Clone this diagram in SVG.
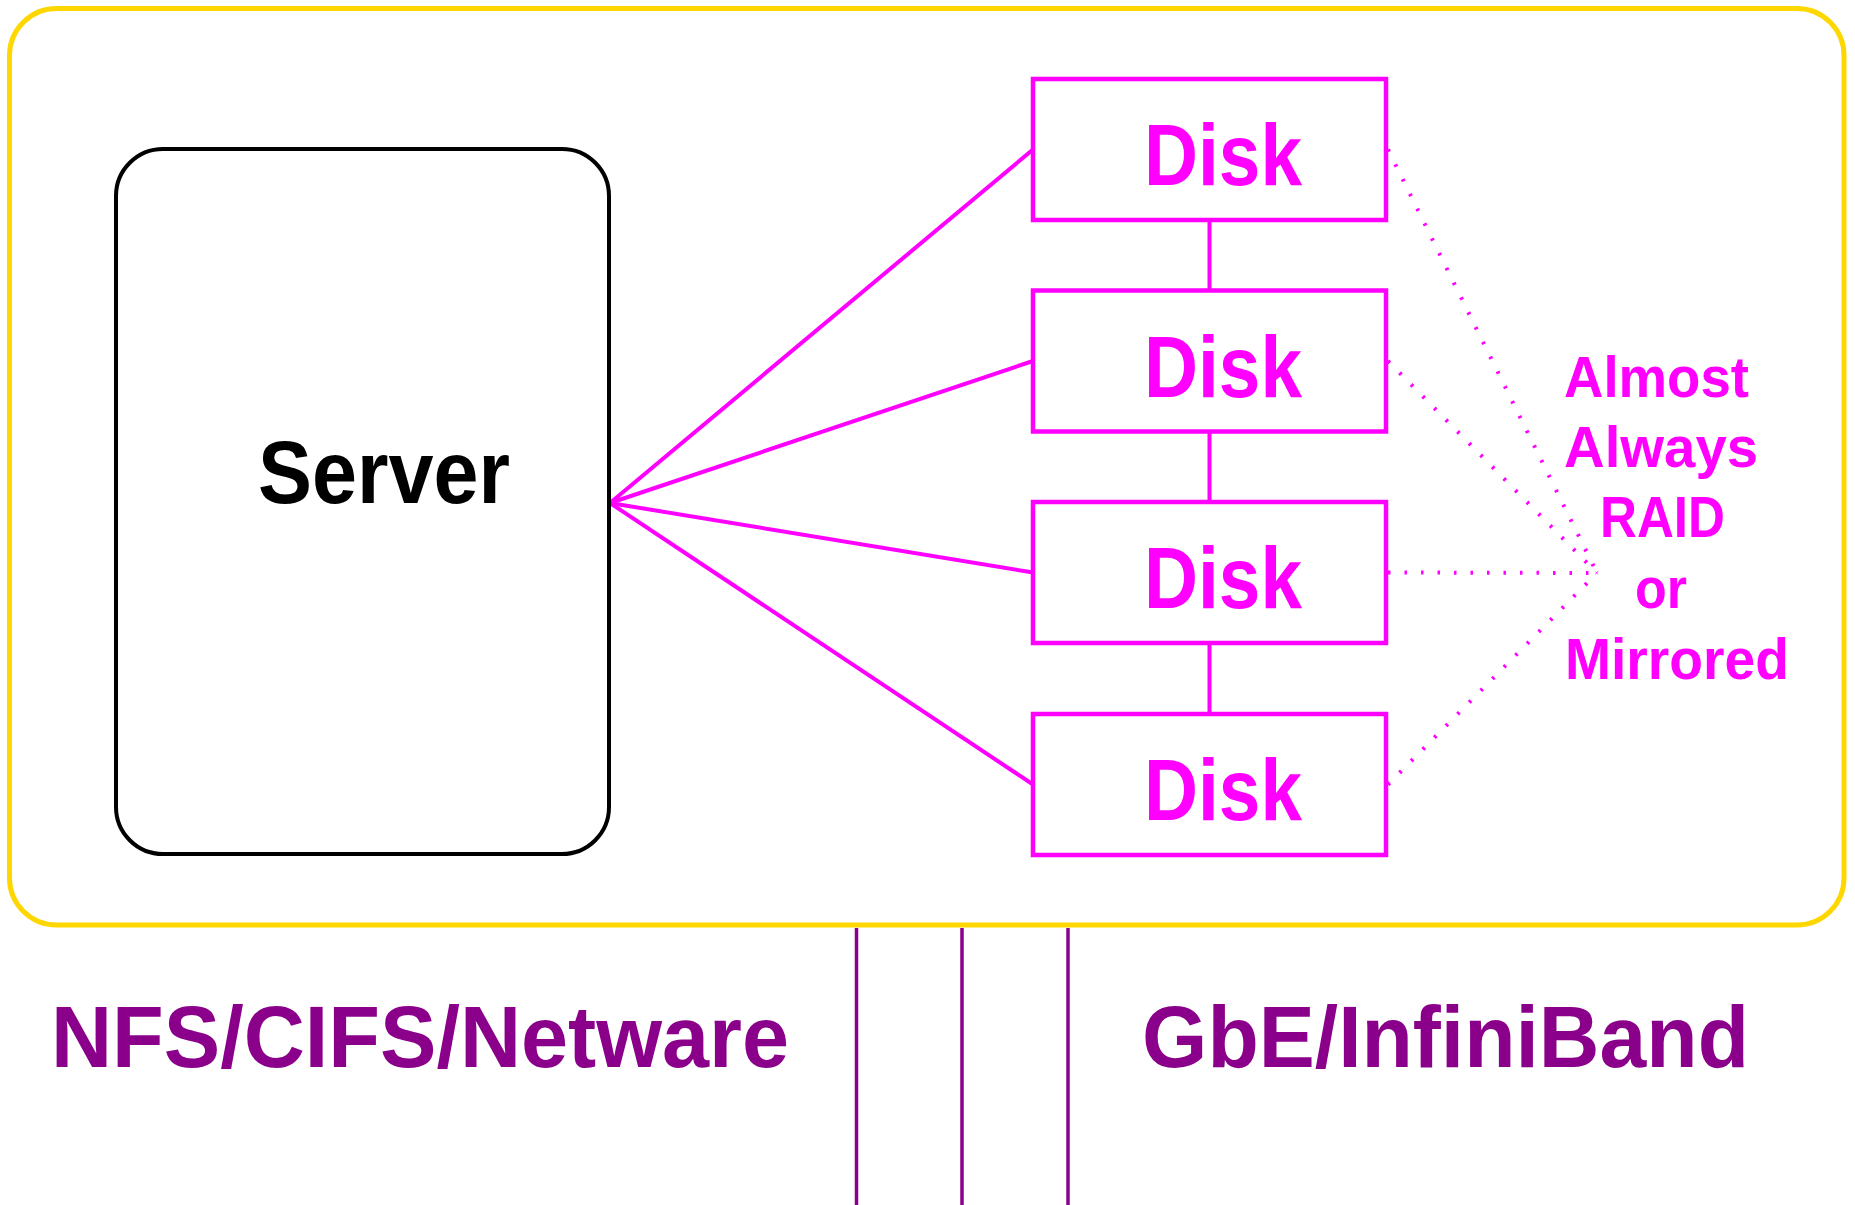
<svg xmlns="http://www.w3.org/2000/svg" width="1855" height="1205" viewBox="0 0 1855 1205">
<style>
.t{font-family:"Liberation Sans",Arial,sans-serif;font-weight:bold}
.disk rect{fill:none;stroke:#FF00FF;stroke-width:4.5}
.disk text{fill:#FF00FF;font-size:88px}
.solid{stroke:#FF00FF;stroke-width:4;fill:none}
.dot{stroke:#FF00FF;stroke-width:4;stroke-dasharray:2.5 14;fill:none}
.net{stroke:#8B008B;stroke-width:3.5}
.lbl{fill:#FF00FF;font-size:57px}
.bot{fill:#8B008B;font-size:87px}
</style>
<rect x="0" y="0" width="1855" height="1205" fill="#FFFFFF"/>
<g id="enclosure">
<rect x="9.5" y="8.5" width="1834.5" height="916.5" rx="47" ry="47" fill="none" stroke="#FFD700" stroke-width="5"/>
</g>
<g id="connectors">
<line class="solid" x1="610" y1="503" x2="1033" y2="149.5"/>
<line class="solid" x1="610" y1="503" x2="1033" y2="361"/>
<line class="solid" x1="610" y1="503" x2="1033" y2="572.5"/>
<line class="solid" x1="610" y1="503" x2="1033" y2="784.5"/>
<line class="solid" x1="1209.5" y1="220" x2="1209.5" y2="290.5"/>
<line class="solid" x1="1209.5" y1="431.5" x2="1209.5" y2="502"/>
<line class="solid" x1="1209.5" y1="643" x2="1209.5" y2="714"/>
<line class="dot" x1="1388" y1="149.5" x2="1597" y2="573"/>
<line class="dot" x1="1388" y1="361" x2="1597" y2="573"/>
<line class="dot" x1="1388" y1="572.5" x2="1597" y2="573"/>
<line class="dot" x1="1388" y1="784.5" x2="1597" y2="573"/>
<line class="net" x1="856.5" y1="928" x2="856.5" y2="1205"/>
<line class="net" x1="962" y1="928" x2="962" y2="1205"/>
<line class="net" x1="1068" y1="928" x2="1068" y2="1205"/>
</g>
<g id="server">
<rect x="116" y="149" width="493" height="705" rx="47" ry="47" fill="none" stroke="#000000" stroke-width="4"/>
<text class="t" x="258" y="503" font-size="89" textLength="252" lengthAdjust="spacingAndGlyphs" fill="#000000">Server</text>
</g>
<g id="disk1" class="disk">
<rect x="1033" y="79" width="353" height="141"/>
<text class="t" x="1144" y="185" textLength="158" lengthAdjust="spacingAndGlyphs">Disk</text>
</g>
<g id="disk2" class="disk">
<rect x="1033" y="290.5" width="353" height="141"/>
<text class="t" x="1144" y="396.5" textLength="158" lengthAdjust="spacingAndGlyphs">Disk</text>
</g>
<g id="disk3" class="disk">
<rect x="1033" y="502" width="353" height="141"/>
<text class="t" x="1144" y="608" textLength="158" lengthAdjust="spacingAndGlyphs">Disk</text>
</g>
<g id="disk4" class="disk">
<rect x="1033" y="714" width="353" height="141"/>
<text class="t" x="1144" y="820" textLength="158" lengthAdjust="spacingAndGlyphs">Disk</text>
</g>
<g id="raid-label">
<text class="t lbl" x="1564" y="397" textLength="185" lengthAdjust="spacingAndGlyphs">Almost</text>
<text class="t lbl" x="1564" y="467" textLength="194" lengthAdjust="spacingAndGlyphs">Always</text>
<text class="t lbl" x="1600" y="537" textLength="125" lengthAdjust="spacingAndGlyphs">RAID</text>
<text class="t lbl" x="1635" y="608" textLength="52" lengthAdjust="spacingAndGlyphs">or</text>
<text class="t lbl" x="1565" y="679" textLength="224" lengthAdjust="spacingAndGlyphs">Mirrored</text>
</g>
<g id="protocols">
<text class="t bot" x="51" y="1067" textLength="738" lengthAdjust="spacingAndGlyphs">NFS/CIFS/Netware</text>
</g>
<g id="transports">
<text class="t bot" x="1142" y="1067" textLength="607" lengthAdjust="spacingAndGlyphs">GbE/InfiniBand</text>
</g>
</svg>
